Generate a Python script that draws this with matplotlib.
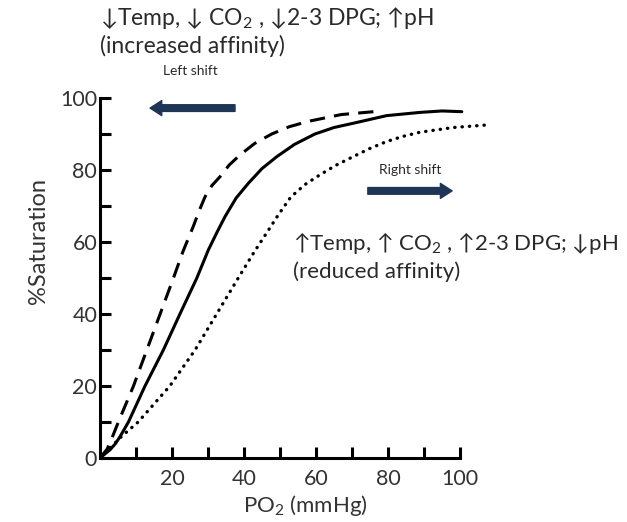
import matplotlib
matplotlib.use('Agg')
import matplotlib.pyplot as plt

plt.rcParams['font.family'] = ['Lato', 'DejaVu Sans']
plt.rcParams['mathtext.fontset'] = 'custom'
plt.rcParams['mathtext.rm'] = 'Lato'

# ── Data ──────────────────────────────────────────────────────────────────────
normal_x = [0, 2.8, 4.3, 5.6, 7.9, 12.5, 17.6, 22.2, 26.9, 30.1, 32.4, 34.7, 37.8,
            41.2, 45, 49.1, 54, 59.7, 65, 70.4, 79.6, 88.9, 95, 100.5]
normal_y = [0, 2.3, 4, 6, 10, 20, 30, 40, 50, 57.8, 62.5, 67, 72.2,
            76.3, 80.4, 83.7, 87.1, 90, 91.8, 93, 95.1, 96, 96.4, 96.2]

left_x = [0, 2, 3.5, 5.1, 9.3, 13, 16.7, 20.4, 23.1, 25.9, 27.6, 29.2, 31.1, 33.3,
          35.9, 38.9, 43, 47.7, 52.5, 57.8, 67, 76]
left_y = [0, 2.5, 6, 10, 20, 30, 40, 50, 57.5, 64.3, 68.8, 72.6, 75.7, 78.1,
          81.4, 84.2, 87.4, 90, 92, 93.5, 95.4, 96.2]

right_x = [0, 2.3, 6, 10.6, 15, 19.4, 26.4, 32.4, 38.4, 43, 46.8, 49.5, 53,
           57, 61, 65.5, 70.3, 75, 79.6, 84, 88.9, 98.1, 107.4]
right_y = [0, 2.3, 6, 10, 15, 20, 30, 40, 50, 57.5, 63.3, 67.5, 72.5,
           76, 78.6, 81.3, 83.7, 86, 87.9, 89.3, 90.5, 91.8, 92.5]

y_ticks = list(range(0, 101, 10))
y_labels = ['0', '', '20', '', '40', '', '60', '', '80', '', '100']
x_ticks = list(range(10, 101, 10))
x_labels = ['', '20', '', '40', '', '60', '', '80', '', '100']

ARROW_COLOR = '#1f3556'
TEXT_COLOR = '#2a2a2a'

fig = plt.figure(figsize=(6.27, 5.22), dpi=100)
ax = fig.add_axes([100 / 627, 64 / 522, 396 / 627, 360 / 522])

ax.plot(normal_x, normal_y, color='black', lw=2.2, solid_capstyle='round',
        solid_joinstyle='round')
ax.plot(left_x, left_y, color='black', lw=2.2, dashes=(5, 3))
ax.plot(right_x, right_y, color='black', lw=2.4, linestyle=(0, (0.1, 2.1)),
        dash_capstyle='round')

ax.set_xlim(0, 110)
ax.set_ylim(0, 100)
for side in ('top', 'right'):
    ax.spines[side].set_visible(False)
for side in ('left', 'bottom'):
    ax.spines[side].set_linewidth(2.2)
ax.spines['bottom'].set_bounds(0, 100)
ax.spines['left'].set_bounds(0, 100)

ax.set_yticks(y_ticks)
ax.set_yticklabels(y_labels)
ax.set_xticks(x_ticks)
ax.set_xticklabels(x_labels)
ax.tick_params(axis='both', direction='in', length=8, width=2.2,
               labelsize=15.5, colors='black', labelcolor='#333333')
ax.tick_params(axis='x', pad=8)
ax.tick_params(axis='y', pad=2)

# axis titles
fig.text(305 / 627, 1 - 505 / 522, r'PO$_\mathregular{2}$ (mmHg)', fontsize=16,
         color='#333333', ha='center', va='center')
fig.text(38 / 627, 1 - 241 / 522, '%Saturation', fontsize=17, rotation=90,
         color='#333333', ha='center', va='center')

# ── Annotations ──────────────────────────────────────────────────────────────
fig.text(100 / 627, 1 - 18 / 522, '↓Temp, ↓ CO$_\\mathregular{2}$ , ↓2-3 DPG; ↑pH',
         fontsize=16.5, color=TEXT_COLOR, va='center', ha='left')
fig.text(100 / 627, 1 - 46 / 522, '(increased affinity)',
         fontsize=16.5, color=TEXT_COLOR, va='center', ha='left')
fig.text(190 / 627, 1 - 71 / 522, 'Left shift', fontsize=10, color=TEXT_COLOR,
         va='center', ha='center')
fig.text(410 / 627, 1 - 170 / 522, 'Right shift', fontsize=10, color=TEXT_COLOR,
         va='center', ha='center')
fig.text(293 / 627, 1 - 243 / 522, '↑Temp, ↑ CO$_\\mathregular{2}$ , ↑2-3 DPG; ↓pH',
         fontsize=16, color=TEXT_COLOR, va='center', ha='left')
fig.text(293 / 627, 1 - 272 / 522, '(reduced affinity)',
         fontsize=16, color=TEXT_COLOR, va='center', ha='left')

arrow_style = 'simple,head_length=0.7,head_width=0.9,tail_width=0.4'
ax.annotate('', xy=(13.9, 97.2), xytext=(37.5, 97.2), annotation_clip=False,
            arrowprops=dict(arrowstyle=arrow_style, color=ARROW_COLOR,
                            mutation_scale=12, shrinkA=0, shrinkB=0))
ax.annotate('', xy=(97.8, 74.2), xytext=(74.4, 74.2), annotation_clip=False,
            arrowprops=dict(arrowstyle=arrow_style, color=ARROW_COLOR,
                            mutation_scale=12, shrinkA=0, shrinkB=0))

fig.savefig('out.png', dpi=100)
